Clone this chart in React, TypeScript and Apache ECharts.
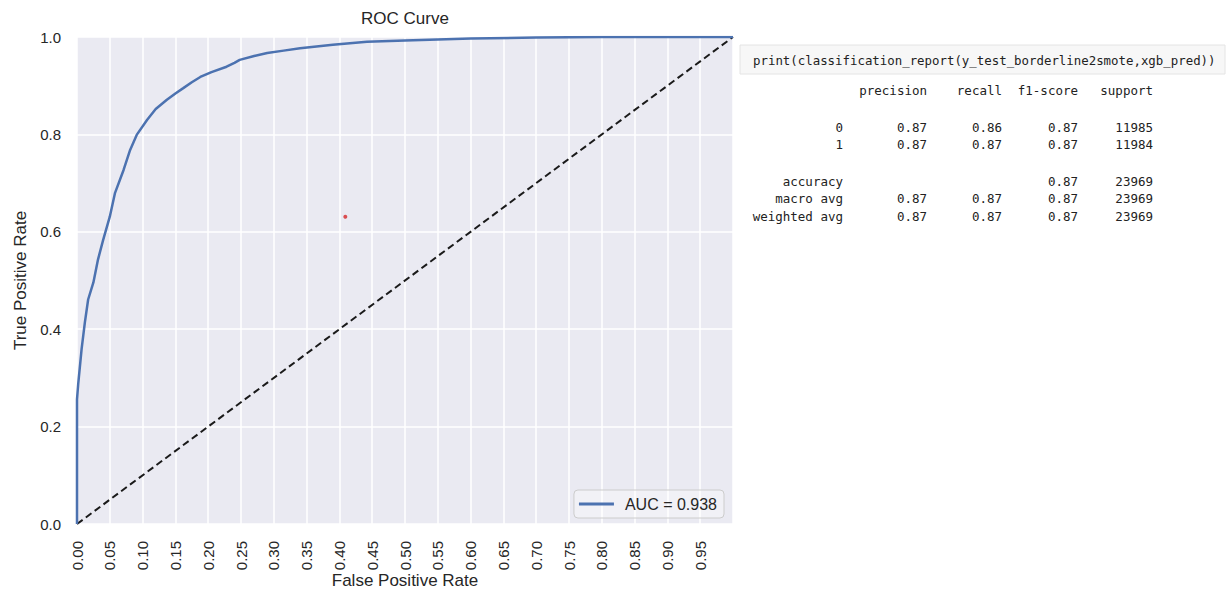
import React, { useEffect, useRef } from "react";
import * as echarts from "echarts";

// ROC curve values
const fpr = [0, 0, 0.002, 0.007, 0.012, 0.017, 0.025, 0.032, 0.04, 0.05, 0.058, 0.071, 0.081, 0.091, 0.107, 0.12, 0.137, 0.15, 0.162, 0.175, 0.188, 0.205, 0.228, 0.24, 0.248, 0.27, 0.29, 0.315, 0.34, 0.39, 0.442, 0.5, 0.6, 0.7, 0.8, 0.9, 1.0];
const tpr = [0, 0.256, 0.29, 0.359, 0.414, 0.461, 0.496, 0.543, 0.584, 0.631, 0.68, 0.727, 0.768, 0.799, 0.83, 0.852, 0.871, 0.884, 0.895, 0.907, 0.918, 0.928, 0.939, 0.947, 0.953, 0.961, 0.967, 0.972, 0.977, 0.984, 0.99, 0.993, 0.997, 0.999, 1.0, 1.0, 1.0];
const chancePoints = [[0, 0], [1, 1]];
const operatingPoint = [0.409, 0.631];
const aucLabel = "AUC = 0.938";
const xAxisTitle = "False Positive Rate";

// Classification report
const codeLine = "print(classification_report(y_test_borderline2smote,xgb_pred))";
const reportHeader = ["", "precision", "recall", "f1-score", "support"];
const reportLabels = ["0", "1", "accuracy", "macro avg", "weighted avg"];
const reportPrecision = ["0.87", "0.87", "", "0.87", "0.87"];
const reportRecall = ["0.86", "0.87", "", "0.87", "0.87"];
const reportF1 = ["0.87", "0.87", "0.87", "0.87", "0.87"];
const reportSupport = ["11985", "11984", "23969", "23969", "23969"];

export default function App() {
  const ref = useRef<HTMLDivElement>(null);
  useEffect(() => {
    if (!ref.current) return;
    const chart = echarts.init(ref.current, null, { renderer: "svg" });
    const mono = "'DejaVu Sans Mono', 'Liberation Mono', monospace";
    const font = "'Liberation Sans', Arial, sans-serif";
    const colX = [843, 927, 1002, 1078, 1153];
    const rowY = [127, 144, 181, 198, 216];
    const texts: any[] = [];
    texts.push({
      type: "text",
      x: 405,
      y: 18,
      style: { text: "ROC Curve", fontFamily: font, fontSize: 17, fill: "#262626", align: "center", verticalAlign: "middle" },
    });
    texts.push({
      type: "text",
      x: 405,
      y: 580,
      style: { text: xAxisTitle, fontFamily: font, fontSize: 17, fill: "#262626", align: "center", verticalAlign: "middle" },
    });
    texts.push({
      type: "rect",
      shape: { x: 740, y: 45, width: 485, height: 29 },
      style: { fill: "#F7F7F7", stroke: "#E4E4E4", lineWidth: 1 },
    });
    texts.push({
      type: "text",
      x: 753,
      y: 60,
      style: { text: codeLine, fontFamily: mono, fontSize: 12.4, fill: "#222", align: "left", verticalAlign: "middle" },
    });
    reportHeader.forEach((h, i) => {
      if (!h) return;
      texts.push({
        type: "text",
        x: colX[i],
        y: 90,
        style: { text: h, fontFamily: mono, fontSize: 12.5, fill: "#222", align: "right", verticalAlign: "middle" },
      });
    });
    const cols = [reportLabels, reportPrecision, reportRecall, reportF1, reportSupport];
    cols.forEach((col, ci) => {
      col.forEach((v, ri) => {
        if (!v) return;
        texts.push({
          type: "text",
          x: colX[ci],
          y: rowY[ri],
          style: { text: v, fontFamily: mono, fontSize: 12.5, fill: "#222", align: "right", verticalAlign: "middle" },
        });
      });
    });

    chart.setOption({
      animation: false,
      textStyle: { fontFamily: font },
      grid: {
        left: 77,
        top: 37,
        right: 494,
        bottom: 68,
        show: true,
        backgroundColor: "#EAEAF2",
        borderWidth: 0,
        containLabel: false,
        outerBoundsMode: "none",
      },
      legend: {
        data: [aucLabel],
        right: 503,
        bottom: 74,
        orient: "vertical",
        icon: "rect",
        itemWidth: 35,
        itemHeight: 3,
        itemGap: 0,
        padding: [6, 7, 6, 5],
        backgroundColor: "rgba(255,255,255,0.35)",
        borderColor: "#CCCCCC",
        borderWidth: 1,
        borderRadius: 4,
        textStyle: { fontSize: 16, color: "#262626", fontFamily: font, padding: [0, 0, 0, 6] },
      },
      xAxis: {
        type: "value",
        min: 0,
        max: 1,
        interval: 0.05,
        axisLine: { show: false },
        axisTick: { show: false },
        axisLabel: {
          rotate: 90,
          fontSize: 15,
          color: "#262626",
          margin: 17,
          formatter: (v: number) => (v >= 0.999 ? "" : v.toFixed(2)),
        },
        splitLine: { show: true, lineStyle: { color: "#FFFFFF", width: 1.5 } },
      },
      yAxis: {
        type: "value",
        min: 0,
        max: 1,
        interval: 0.2,
        name: "True Positive Rate",
        nameLocation: "middle",
        nameGap: 46,
        nameTextStyle: { fontSize: 17, color: "#262626", fontFamily: font },
        axisLine: { show: false },
        axisTick: { show: false },
        axisLabel: {
          fontSize: 15,
          color: "#262626",
          margin: 16,
          formatter: (v: number) => v.toFixed(1),
        },
        splitLine: { show: true, lineStyle: { color: "#FFFFFF", width: 1.5 } },
      },
      series: [
        {
          name: "chance",
          type: "line",
          data: chancePoints,
          symbol: "none",
          lineStyle: { color: "#1a1a1a", width: 2, type: [7, 4] },
          z: 2,
        },
        {
          name: aucLabel,
          type: "line",
          data: fpr.map((x, i) => [x, tpr[i]]),
          symbol: "none",
          color: "#4C72B0",
          lineStyle: { color: "#4C72B0", width: 2.5 },
          z: 3,
        },
        {
          name: "point",
          type: "scatter",
          data: [operatingPoint],
          symbolSize: 4,
          itemStyle: { color: "#D62728" },
          z: 4,
        },
      ],
      graphic: texts,
    });
    return () => chart.dispose();
  }, []);
  return (
    <div
      ref={ref}
      style={{ position: "absolute", left: 0, top: 0, width: 1227, height: 592, background: "#fff" }}
    />
  );
}
